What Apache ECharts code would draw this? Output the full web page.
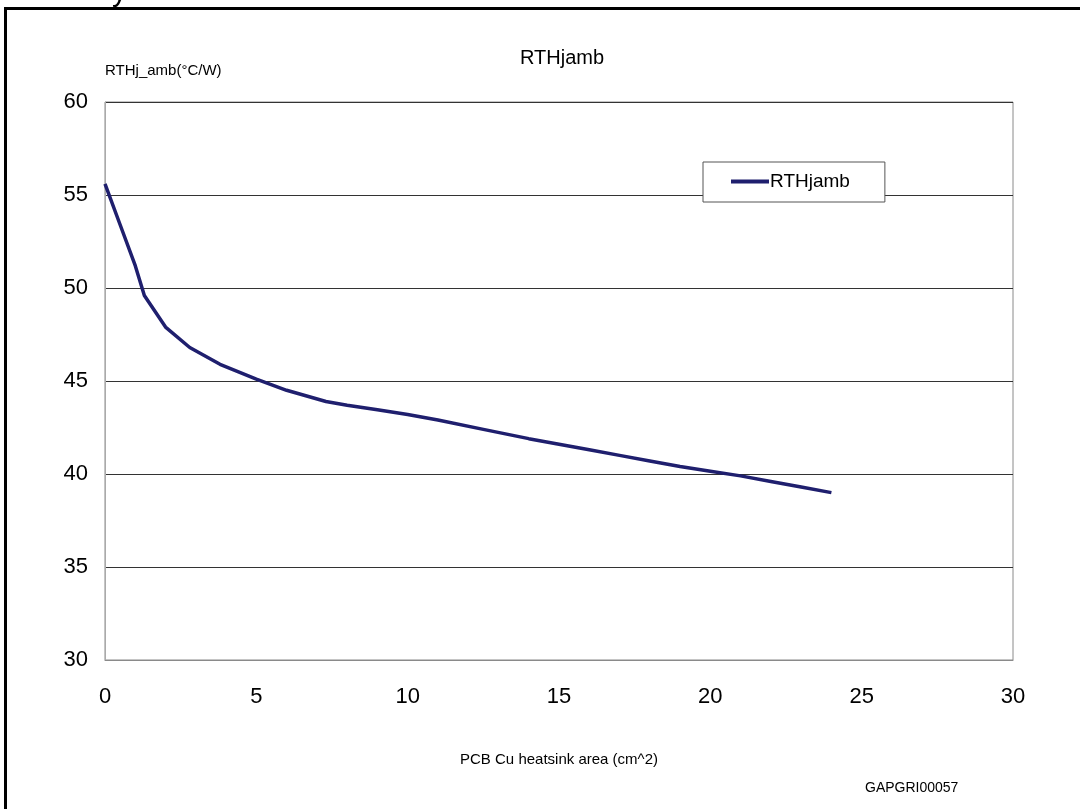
<!DOCTYPE html>
<html>
<head>
<meta charset="utf-8">
<script src="https://cdn.jsdelivr.net/npm/echarts@6/dist/echarts.min.js"></script>
<style>
  html, body { margin: 0; padding: 0; background: #fff; }
  #chart { width: 1080px; height: 809px; }
</style>
</head>
<body>
<div id="chart"></div>
<script>
// copper area (cm^2) vs thermal resistance (°C/W)
const areaCm2 = [0, 0.5, 1, 1.3, 2, 2.8, 3.8, 5, 6, 7.3, 8, 9, 10, 11, 12.5, 14, 15, 16, 17, 18, 19, 20, 21, 22, 23, 24];
const rthJamb = [55.6, 53.4, 51.2, 49.6, 47.9, 46.8, 45.9, 45.1, 44.5, 43.9, 43.7, 43.45, 43.2, 42.9, 42.4, 41.9, 41.6, 41.3, 41.0, 40.7, 40.4, 40.15, 39.9, 39.6, 39.3, 39.0];

const seriesName = 'RTHjamb';
const font = 'Liberation Sans, Arial, sans-serif';

const chart = echarts.init(document.getElementById('chart'), null, { renderer: 'canvas' });

const option = {
  backgroundColor: '#ffffff',
  animation: false,
  textStyle: { fontFamily: font, color: '#000' },
  title: {
    text: 'RTHjamb',
    left: 557,
    textAlign: 'center',
    top: 43,
    textStyle: { fontSize: 20, fontWeight: 'normal', color: '#000', fontFamily: font }
  },
  legend: {
    data: [seriesName],
    left: 703,
    top: 162,
    padding: [10, 35, 11, 28],
    itemWidth: 38,
    itemHeight: 4,
    itemGap: 0,
    backgroundColor: '#fff',
    borderColor: '#555',
    borderWidth: 1,
    icon: 'rect',
    textStyle: { fontSize: 19, color: '#000', fontFamily: font, padding: [0, 0, 0, -4] }
  },
  grid: {
    left: 105,
    top: 102,
    right: 67,
    bottom: 149,
    show: true,
    borderColor: '#8a8a8a',
    borderWidth: 1,
    containLabel: false
  },
  xAxis: {
    type: 'value',
    min: 0,
    max: 30,
    interval: 5,
    name: 'PCB Cu heatsink area (cm^2)',
    nameLocation: 'middle',
    nameGap: 92,
    nameTextStyle: { fontSize: 15, color: '#000', fontFamily: font },
    axisLine: { show: true, onZero: false, lineStyle: { color: '#8a8a8a', width: 1 } },
    axisTick: { show: false },
    axisLabel: { fontSize: 22, color: '#000', margin: 26, fontFamily: font },
    splitLine: { show: false }
  },
  yAxis: {
    type: 'value',
    min: 30,
    max: 60,
    interval: 5,
    name: 'RTHj_amb(°C/W)',
    nameLocation: 'end',
    nameGap: 24,
    nameTextStyle: { fontSize: 15, color: '#000', align: 'left', fontFamily: font },
    axisLine: { show: true, lineStyle: { color: '#aaaaaa', width: 1 } },
    axisTick: { show: false },
    axisLabel: { fontSize: 22, color: '#000', margin: 17, fontFamily: font },
    splitLine: { show: true, lineStyle: { color: '#333', width: 1 } }
  },
  series: [
    {
      name: seriesName,
      type: 'line',
      data: areaCm2.map((x, i) => [x, rthJamb[i]]),
      showSymbol: false,
      symbol: 'none',
      smooth: false,
      color: '#1f1f6e',
      lineStyle: { color: '#1f1f6e', width: 3.5 }
    }
  ],
  graphic: [
    {
      type: 'rect',
      shape: { x: 5.5, y: 8.5, width: 1200, height: 1000 },
      style: { fill: 'none', stroke: '#000', lineWidth: 3 },
      silent: true
    },
    {
      type: 'text',
      left: 112,
      top: -22,
      style: { text: 'y', fontSize: 30, fill: '#000', fontFamily: font }
    },
    {
      type: 'text',
      left: 865,
      top: 781,
      style: { text: 'GAPGRI00057', fontSize: 14, fill: '#000', fontFamily: font }
    }
  ]
};

chart.setOption(option);
</script>
</body>
</html>
